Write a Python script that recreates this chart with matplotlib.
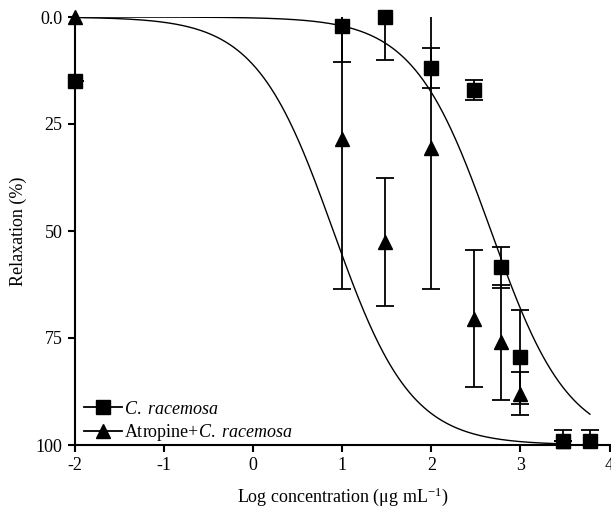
import numpy as np
import matplotlib
matplotlib.use("Agg")
import matplotlib.pyplot as plt
from matplotlib.lines import Line2D

plt.rcParams['font.family'] = ['Liberation Serif', 'DejaVu Serif']
plt.rcParams['mathtext.fontset'] = 'custom'
plt.rcParams['mathtext.rm'] = 'Liberation Serif'
plt.rcParams['mathtext.it'] = 'Liberation Serif:italic'

# Data (log concentration, relaxation %, SEM)
x_sq = [-2, 1, 1.48, 2, 2.48, 2.78, 3, 3.48, 3.78]
y_sq = [15, 2, 0, 12, 17, 58.5, 79.5, 99, 99]
e_sq = [0, 8.5, 10, 4.7, 2.3, 4.8, 11, 2.5, 2.5]

x_tr = [-2, 1, 1.48, 2, 2.48, 2.78, 3, 3.48]
y_tr = [0, 28.5, 52.5, 30.5, 70.5, 76, 88, 99]
e_tr = [0, 35, 15, 33, 16, 13.5, 5, 0]

# Fitted Hill curves parameters
fit_sq = dict(logec50=2.67, hill=1.0, xmax=3.78)
fit_tr = dict(logec50=0.9, hill=1.0, xmax=3.48)

xticks = [-2, -1, 0, 1, 2, 3, 4]
xticklabels = ['-2', '-1', '0', '1', '2', '3', '4']
yticks = [0, 25, 50, 75, 100]
yticklabels = ['0.0', '25', '50', '75', '100']

def hill(x, p):
    return 100.0 / (1 + 10 ** ((p['logec50'] - x) * p['hill']))

fig = plt.figure(figsize=(6.11, 5.16), dpi=100)
ax = fig.add_axes([75/611, 1-445/516, (609.5-75)/611, (445-17)/516])

for p in (fit_sq, fit_tr):
    xc = np.linspace(-2, p['xmax'], 400)
    ax.plot(xc, hill(xc, p), color='black', lw=1.0, zorder=2)

ax.errorbar(x_tr, y_tr, yerr=e_tr, fmt='none', ecolor='black',
            elinewidth=1.3, capsize=6.5, capthick=1.3, zorder=3)
ax.errorbar(x_sq, y_sq, yerr=e_sq, fmt='none', ecolor='black',
            elinewidth=1.3, capsize=6.5, capthick=1.3, zorder=4)
ax.plot(x_tr, y_tr, '^', color='black', ms=10, clip_on=False, zorder=5)
ax.plot(x_sq, y_sq, 's', color='black', ms=10.5, clip_on=False, zorder=6)

ax.set_xlim(-2, 4)
ax.set_ylim(100, 0)
ax.set_xticks(xticks)
ax.set_xticklabels(xticklabels)
ax.set_yticks(yticks)
ax.set_yticklabels(yticklabels)
ax.tick_params(direction='out', length=5, width=1.5, labelsize=13, pad=4)
for s in ('top', 'right'):
    ax.spines[s].set_visible(False)
for s in ('left', 'bottom'):
    ax.spines[s].set_linewidth(1.5)

ax.set_ylabel('Relaxation (%)', fontsize=13, labelpad=6)
ax.set_xlabel(r'Log concentration (μg mL$^{-1}$)', fontsize=13, labelpad=8)

handles = [Line2D([], [], color='black', marker='s', ms=10.5, lw=1.3),
           Line2D([], [], color='black', marker='^', ms=10, lw=1.3)]
labels = [r'$\mathit{C.\ racemosa}$', r'Atropine+$\mathit{C.\ racemosa}$']
ax.legend(handles, labels, loc='lower left', bbox_to_anchor=(0.013, 0.0),
          frameon=False, fontsize=13, handlelength=2.1, handletextpad=0.15,
          labelspacing=0.25, borderaxespad=0.0, borderpad=0.1)

fig.savefig('out.png', dpi=100)
